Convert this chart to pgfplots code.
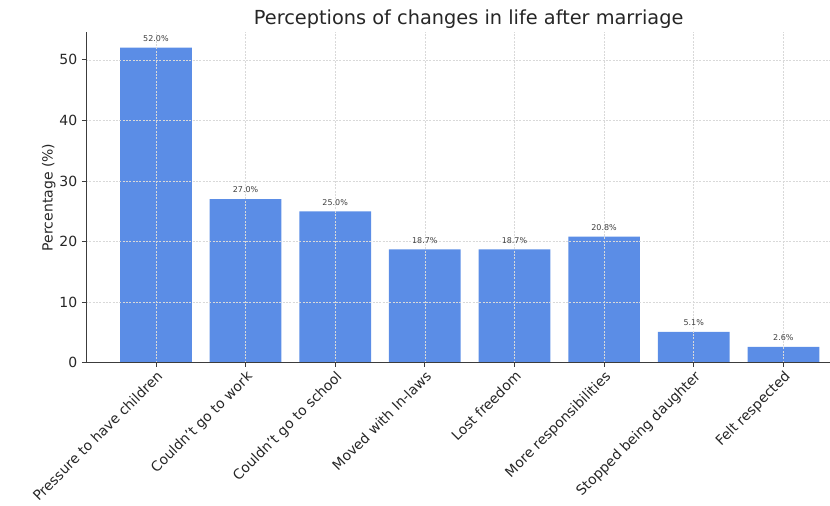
\documentclass[border=0pt]{standalone}
\usepackage{pgfplots}
\pgfplotsset{compat=1.18}
\usepackage{fontspec}
\setmainfont{DejaVu Sans}
\usetikzlibrary{calc}
\definecolor{barblue}{RGB}{91,141,230}
\definecolor{spine}{RGB}{60,60,60}

\begin{document}
\begin{tikzpicture}
  \begin{axis}[name=ax, scale only axis,
      width=558pt, height=248pt,
      xmin=-0.78, xmax=7.52, ymin=0, ymax=54.6,
      axis lines*=left, axis line style={spine, line width=0.6pt},
      axis on top,
      /pgf/number format/assume math mode=true,
      ytick={0,10,20,30,40,50},
      xtick=data,
      xticklabels={Pressure to have children, Couldn't go to work, Couldn't go to school,
        Moved with In-laws, Lost freedom, More responsibilities, Stopped being daughter, Felt respected},
      xticklabel style={rotate=45, anchor=north east, font=\fontsize{10.4}{12}\selectfont, inner sep=1.5pt, text=black!85},
      yticklabel style={font=\fontsize{10.5}{12}\selectfont, text=black!85},
      tick style={spine, line width=0.6pt}, tick align=outside, major tick length=3pt,
      grid=major, major grid style={gray!30, dash pattern=on 1.5pt off 1pt, line width=0.4pt},
      ylabel={Percentage (\%)}, ylabel style={font=\fontsize{10.5}{12}\selectfont, yshift=-4pt, text=black!85},
      title={Perceptions of changes in life after marriage},
      title style={font=\fontsize{14.5}{16}\selectfont, yshift=-7pt, xshift=8pt, text=black!85},
      nodes near coords={\pgfmathprintnumber[fixed,zerofill,precision=1]{\pgfplotspointmeta}\%},
      nodes near coords style={font=\fontsize{6}{7}\selectfont, text=black!75, yshift=1pt},
    ]
    \addplot[ybar, bar width=0.8, fill=barblue, draw=none] coordinates {
      (0,52.0) (1,27.0) (2,25.0) (3,18.7) (4,18.7) (5,20.8) (6,5.1) (7,2.6)};
  \end{axis}
  \pgfresetboundingbox
  \useasboundingbox ($(ax.south west)+(-64.5pt,-107.25pt)$) rectangle ($(ax.north east)+(0pt,24pt)$);
\end{tikzpicture}
\end{document}
